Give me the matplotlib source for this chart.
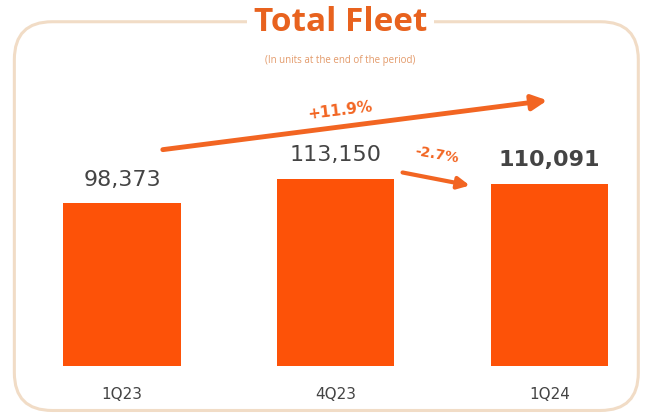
import matplotlib.pyplot as plt
from matplotlib.patches import FancyBboxPatch

quarters = ['1Q23', '4Q23', '1Q24']
fleet = [98373, 113150, 110091]
growth_yoy = '+11.9%'
growth_qoq = '-2.7%'

orange = '#fd5208'
title_orange = '#e8621e'
grey = '#444444'

fig = plt.figure(figsize=(6.52, 4.18), dpi=100)
ax = fig.add_axes([0, 0, 1, 1])
ax.set_xlim(-0.571, 2.48)
ax.set_ylim(-31380, 220870)
ax.axis('off')

# rounded frame around the chart
frame = FancyBboxPatch((0.022, 0.018), 0.957, 0.93, transform=fig.transFigure,
                       boxstyle='round,pad=0,rounding_size=0.058',
                       facecolor='none', edgecolor='#f1dcc6', linewidth=2.2,
                       mutation_aspect=652 / 418)
fig.add_artist(frame)

fig.text(0.522, 0.945, 'Total Fleet', ha='center', va='center', fontsize=24,
         fontweight='bold', color=title_orange, family='Open Sans',
         bbox=dict(facecolor='white', edgecolor='none', pad=5))
fig.text(0.522, 0.855, '(In units at the end of the period)', ha='center', va='center',
         fontsize=7, color='#e39a6a', family='Open Sans')

x = range(len(quarters))
ax.bar(x, fleet, width=0.55, color=orange)

for i, v in enumerate(fleet):
    ax.text(i, v + 8000, f'{v:,}', ha='center', va='bottom', fontsize=16,
            color=grey, fontweight='bold' if i == 2 else 'normal')
    ax.text(i, -17500, quarters[i], ha='center', va='center', fontsize=11, color=grey)

# growth arrows
ax.annotate('', xy=(2.003, 160500), xytext=(0.178, 130350),
            arrowprops=dict(arrowstyle='-|>,head_length=0.9,head_width=0.45',
                            color='#f26522', lw=3.5))
ax.text(1.02, 154000, growth_yoy, ha='center', va='center', fontsize=11,
        color='#f26522', fontweight='bold', rotation=7)
ax.annotate('', xy=(1.64, 108600), xytext=(1.30, 117100),
            arrowprops=dict(arrowstyle='-|>,head_length=0.7,head_width=0.35',
                            color='#f26522', lw=3))
ax.text(1.474, 127300, growth_qoq, ha='center', va='center', fontsize=10,
        color='#f26522', fontweight='bold', rotation=-10)

fig.savefig('out.png', dpi=100)
